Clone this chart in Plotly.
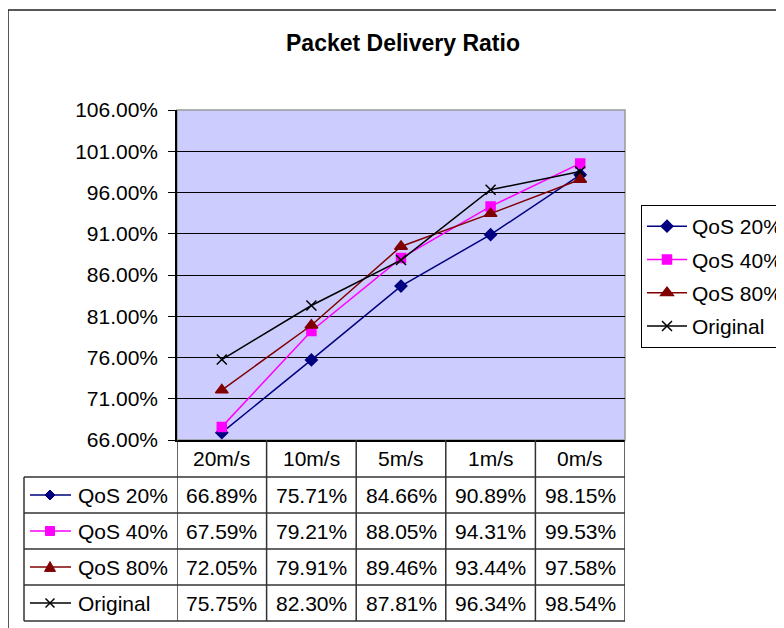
import plotly.graph_objects as go

categories = ["20m/s", "10m/s", "5m/s", "1m/s", "0m/s"]
qos20 = [66.89, 75.71, 84.66, 90.89, 98.15]
qos40 = [67.59, 79.21, 88.05, 94.31, 99.53]
qos80 = [72.05, 79.91, 89.46, 93.44, 97.58]
original = [75.75, 82.30, 87.81, 96.34, 98.54]
series_names = ["QoS 20%", "QoS 40%", "QoS 80%", "Original"]
series_values = [qos20, qos40, qos80, original]
colors = ["#000080", "#FF00FF", "#800000", "#000000"]
symbols = ["diamond", "square", "triangle-up", "x-thin"]
marker_sizes = [9, 9, 11, 10]

OFF = 8  # page body margin
W, H = 784, 628
L, R, T, B = 177 - OFF, 625 - OFF, 110 - OFF, 440 - OFF  # plot area in figure pixels
FONT = "Liberation Sans, Arial, sans-serif"
FS = 21


def px(x):
    # x given in screen pixels
    return (x - OFF - L) / (R - L)


def py(y):
    return (B - (y - OFF)) / (B - T)


fig = go.Figure()
x_idx = list(range(len(categories)))
for i, (name, vals) in enumerate(zip(series_names, series_values)):
    fig.add_trace(go.Scatter(
        x=x_idx, y=vals, name=name, mode="lines+markers",
        line=dict(color=colors[i], width=1.5),
        marker=dict(symbol=symbols[i], size=marker_sizes[i], color=colors[i],
                    line=dict(color=colors[i], width=1.5)),
        legendgroup=name,
    ))

shapes = []
annotations = []

# outer chart border
shapes.append(dict(type="rect", xref="paper", yref="paper",
                   x0=px(8), x1=px(820), y0=py(10), y1=py(660),
                   line=dict(color="#222222", width=1.5), fillcolor="rgba(0,0,0,0)", layer="below"))
# plot area border (gray)
shapes.append(dict(type="rect", xref="paper", yref="paper", x0=0, x1=1, y0=0, y1=1,
                   line=dict(color="#999999", width=1.5), layer="below"))

# table geometry (screen pixels)
row_h = 36
n_rows = len(series_names)
table_top = 440
header_bottom = 477
table_bottom = header_bottom + row_h * n_rows
label_left = 24
n = len(categories)

for i in range(n + 1):
    shapes.append(dict(type="line", xref="x", yref="paper", x0=i - 0.5, x1=i - 0.5,
                       y0=py(table_top), y1=py(table_bottom),
                       line=dict(color="#333333", width=1.5)))
shapes.append(dict(type="line", xref="paper", yref="paper", x0=px(label_left), x1=px(label_left),
                   y0=py(header_bottom), y1=py(table_bottom), line=dict(color="#333333", width=1.5)))
for r in range(n_rows + 1):
    yy = header_bottom + r * row_h
    shapes.append(dict(type="line", xref="paper", yref="paper", x0=px(label_left), x1=1,
                       y0=py(yy), y1=py(yy), line=dict(color="#333333", width=1.5)))

for i, c in enumerate(categories):
    annotations.append(dict(x=i, y=py((table_top + header_bottom) / 2), xref="x", yref="paper",
                            text=c, showarrow=False, font=dict(family=FONT, size=FS, color="black"),
                            xanchor="center", yanchor="middle"))

for r, (name, vals) in enumerate(zip(series_names, series_values)):
    yc = header_bottom + r * row_h + row_h / 2
    for i, v in enumerate(vals):
        annotations.append(dict(x=i, y=py(yc), xref="x", yref="paper", text=f"{v:.2f}%",
                                showarrow=False, font=dict(family=FONT, size=FS, color="black"),
                                xanchor="center", yanchor="middle"))
    annotations.append(dict(x=px(76), y=py(yc), xref="paper", yref="paper", text=name,
                            showarrow=False, font=dict(family=FONT, size=FS, color="black"),
                            xanchor="left", yanchor="middle"))
    col = colors[r]
    shapes.append(dict(type="line", xref="paper", yref="paper", x0=px(30), x1=px(71),
                       y0=py(yc), y1=py(yc), line=dict(color=col, width=1.5)))
    cx, cy = 50, yc
    if symbols[r] == "diamond":
        s = 5
        path = f"M {px(cx)},{py(cy - s)} L {px(cx + s)},{py(cy)} L {px(cx)},{py(cy + s)} L {px(cx - s)},{py(cy)} Z"
        shapes.append(dict(type="path", xref="paper", yref="paper", path=path,
                           fillcolor=col, line=dict(color=col, width=1)))
    elif symbols[r] == "square":
        s = 4.5
        shapes.append(dict(type="rect", xref="paper", yref="paper", x0=px(cx - s), x1=px(cx + s),
                           y0=py(cy + s), y1=py(cy - s), fillcolor=col, line=dict(color=col, width=1)))
    elif symbols[r] == "triangle-up":
        s = 5.5
        path = f"M {px(cx)},{py(cy - s)} L {px(cx + s)},{py(cy + s * 0.8)} L {px(cx - s)},{py(cy + s * 0.8)} Z"
        shapes.append(dict(type="path", xref="paper", yref="paper", path=path,
                           fillcolor=col, line=dict(color=col, width=1)))
    else:
        s = 4.5
        shapes.append(dict(type="line", xref="paper", yref="paper", x0=px(cx - s), x1=px(cx + s),
                           y0=py(cy - s), y1=py(cy + s), line=dict(color=col, width=1.5)))
        shapes.append(dict(type="line", xref="paper", yref="paper", x0=px(cx - s), x1=px(cx + s),
                           y0=py(cy + s), y1=py(cy - s), line=dict(color=col, width=1.5)))

annotations.append(dict(x=px(403), y=py(43), xref="paper", yref="paper",
                        text="<b>Packet Delivery Ratio</b>", showarrow=False,
                        font=dict(family=FONT, size=23, color="black"),
                        xanchor="center", yanchor="middle"))

fig.update_layout(
    width=W, height=H,
    margin=dict(l=L, r=W - R, t=T, b=H - B, autoexpand=False),
    paper_bgcolor="white", plot_bgcolor="#CCCCFF",
    font=dict(family=FONT, size=FS, color="black"),
    showlegend=True,
    legend=dict(x=px(641), y=py(205), xanchor="left", yanchor="top",
                bordercolor="black", borderwidth=1, bgcolor="white",
                font=dict(family=FONT, size=FS, color="black"),
                tracegroupgap=3, itemwidth=40),
    shapes=shapes, annotations=annotations,
)
fig.update_xaxes(range=[-0.5, n - 0.5], showticklabels=False, showgrid=False,
                 zeroline=False, showline=True, linecolor="black", linewidth=2,
                 ticks="", fixedrange=True)
fig.update_yaxes(range=[66, 106], tick0=66, dtick=5, tickformat=".2f", ticksuffix="%",
                 showgrid=True, gridcolor="black", gridwidth=1, zeroline=False,
                 showline=True, linecolor="black", linewidth=1.5,
                 ticks="outside", ticklen=7, tickcolor="black",
                 tickfont=dict(family=FONT, size=FS, color="black"), ticklabelstandoff=6,
                 fixedrange=True)

fig.write_html("out.html")
